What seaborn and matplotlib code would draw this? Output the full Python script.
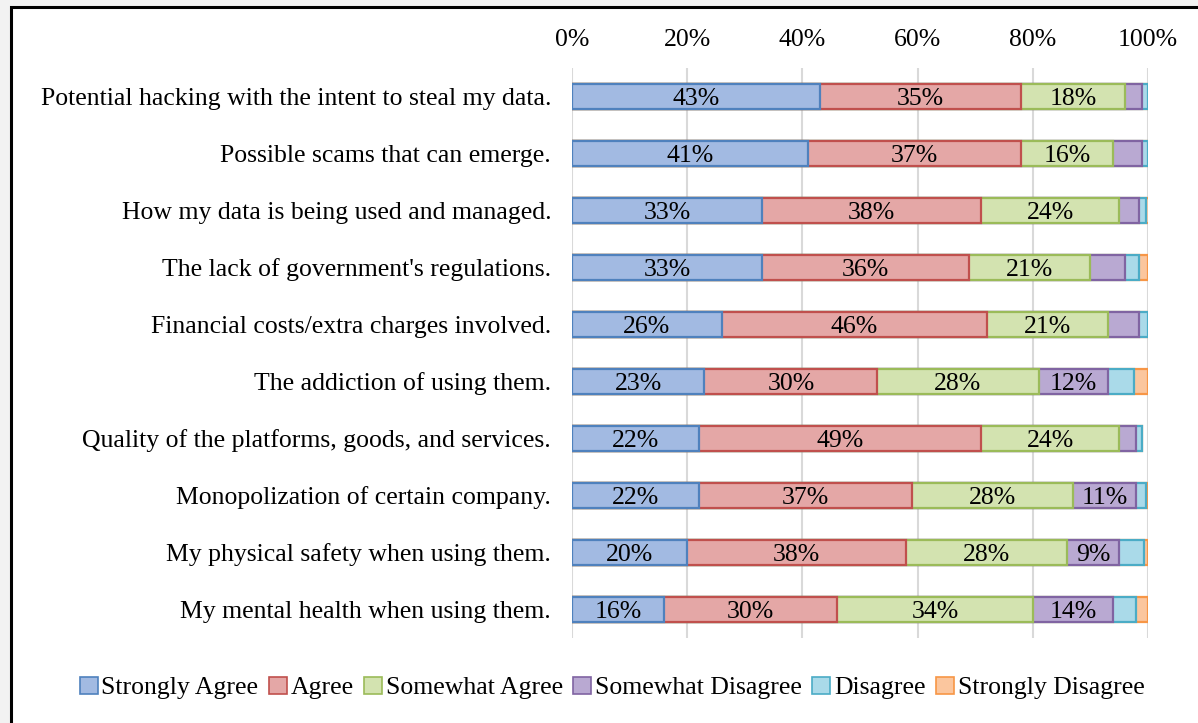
import numpy as np
import pandas as pd
import matplotlib.pyplot as plt
import seaborn as sns
from matplotlib.patches import Rectangle, Patch

# Survey concerns (top to bottom)
concerns = [
    "Potential hacking with the intent to steal my data.",
    "Possible scams that can emerge.",
    "How my data is being used and managed.",
    "The lack of government's regulations.",
    "Financial costs/extra charges involved.",
    "The addiction of using them.",
    "Quality of the platforms, goods, and services.",
    "Monopolization of certain company.",
    "My physical safety when using them.",
    "My mental health when using them.",
]

responses = ["Strongly Agree", "Agree", "Somewhat Agree",
             "Somewhat Disagree", "Disagree", "Strongly Disagree"]

strongly_agree = [43, 41, 33, 33, 26, 23, 22, 22, 20, 16]
agree = [35, 37, 38, 36, 46, 30, 49, 37, 38, 30]
somewhat_agree = [18, 16, 24, 21, 21, 28, 24, 28, 28, 34]
somewhat_disagree = [3, 5, 3.4, 6, 5.4, 12, 3, 11, 9, 14]
disagree = [1, 1, 1.3, 2.4, 1.6, 4.5, 1, 1.6, 4.3, 4]
strongly_disagree = [0, 0, 0.6, 1.6, 0, 2.5, 0, 0.4, 0.7, 2]

fills = ["#A2BAE2", "#E4A7A6", "#D3E3B0", "#B9A9D2", "#AADAE9", "#FBC69E"]
edges = ["#4F81BD", "#C0504D", "#9BBB59", "#8064A2", "#4BACC6", "#F79646"]

df = pd.DataFrame({
    "concern": concerns,
    "Strongly Agree": strongly_agree,
    "Agree": agree,
    "Somewhat Agree": somewhat_agree,
    "Somewhat Disagree": somewhat_disagree,
    "Disagree": disagree,
    "Strongly Disagree": strongly_disagree,
})

sns.set_theme(style="white")
plt.rcParams["font.family"] = ["Liberation Serif", "DejaVu Serif"]
plt.rcParams["text.color"] = "black"
plt.rcParams["xtick.color"] = "black"
plt.rcParams["ytick.color"] = "black"
FS = 18.5

fig = plt.figure(figsize=(11.98, 7.23), dpi=100)
fig.patch.set_facecolor("#F2F2F2")
# white chart frame with black border (cut off at right/bottom like the screenshot)
frame = Rectangle((11 / 1198, -0.05), 1.1, 1 - 7 / 723 + 0.05,
                  transform=fig.transFigure, facecolor="white",
                  edgecolor="black", linewidth=2.2, zorder=-10)
fig.patches.append(frame)

ax = fig.add_axes([572 / 1198, 1 - 638 / 723, 576 / 1198, 570 / 723])
ax.set_facecolor("none")

# cumulative totals, drawn back to front so each layer shows as a segment
cum = df[responses].cumsum(axis=1)
for i in range(len(responses) - 1, -1, -1):
    sns.barplot(x=cum[responses[i]], y=df["concern"], orient="h", ax=ax,
                color=fills[i], edgecolor=edges[i], linewidth=1.6,
                width=0.43, saturation=1, zorder=3)

# percentage labels on the wider segments
for r in range(len(concerns)):
    left = 0
    for resp in responses:
        v = df.loc[r, resp]
        if v >= 8:
            ax.text(left + v / 2, r + 0.04, f"{v:.0f}%", ha="center", va="center",
                    fontsize=FS, color="black", zorder=5)
        left += v

ax.set_xlim(0, 100)
ax.set_ylim(9.5, -0.5)
ax.set_xticks(np.arange(0, 101, 20))
ax.set_xticklabels([f"{t}%" for t in range(0, 101, 20)], fontsize=FS)
ax.xaxis.tick_top()
ax.tick_params(axis="x", length=0, pad=12)
ax.tick_params(axis="y", length=0, pad=15, labelsize=FS)
ax.set_xlabel("")
ax.set_ylabel("")
ax.grid(axis="x", color="#D9D9D9", linewidth=1.5, zorder=0)
for s in ax.spines.values():
    s.set_visible(False)

handles = [Patch(facecolor=fills[i], edgecolor=edges[i], linewidth=1.2)
           for i in range(len(responses))]
fig.legend(handles, responses, loc="center", bbox_to_anchor=(612 / 1198, 1 - 688 / 723),
           ncol=6, frameon=False, fontsize=FS, handlelength=0.7, handleheight=0.7,
           handletextpad=0.15, columnspacing=0.4)

fig.savefig("out.png", dpi=100, facecolor=fig.get_facecolor())
